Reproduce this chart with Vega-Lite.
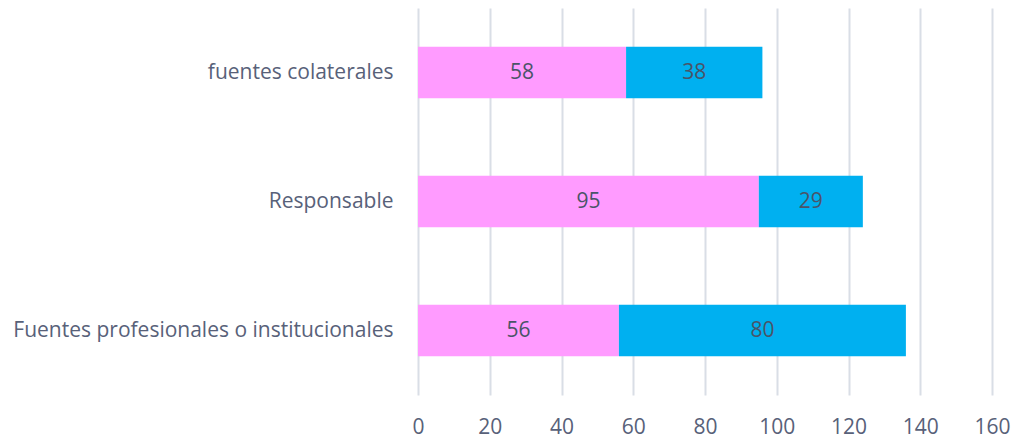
{
  "$schema": "https://vega.github.io/schema/vega-lite/v6.json",
  "width": 574,
  "height": 387,
  "autosize": {"type": "none"},
  "padding": {"left": 418, "top": 8, "right": 26, "bottom": 47},
  "background": "white",
  "config": {"view": {"stroke": null}, "font": "Open Sans"},
  "data": {"values": [
    {"cat": "fuentes colaterales", "serie": "A", "order": 1, "value": 58},
    {"cat": "fuentes colaterales", "serie": "B", "order": 2, "value": 38},
    {"cat": "Responsable", "serie": "A", "order": 1, "value": 95},
    {"cat": "Responsable", "serie": "B", "order": 2, "value": 29},
    {"cat": "Fuentes profesionales o institucionales", "serie": "A", "order": 1, "value": 56},
    {"cat": "Fuentes profesionales o institucionales", "serie": "B", "order": 2, "value": 80}
  ]},
  "encoding": {
    "y": {"field": "cat", "type": "nominal", "sort": ["fuentes colaterales", "Responsable", "Fuentes profesionales o institucionales"],
      "scale": {"paddingInner": 0.6, "paddingOuter": 0.3},
      "axis": {"title": null, "domain": false, "ticks": false, "labelFontSize": 21, "labelColor": "#586179", "labelPadding": 25, "labelLimit": 500}},
    "x": {"field": "value", "type": "quantitative", "stack": "zero",
      "scale": {"domain": [0, 160]},
      "axis": {"title": null, "values": [0,20,40,60,80,100,120,140,160], "domain": false, "ticks": false, "grid": true, "gridColor": "#D9DEE6", "gridWidth": 2, "labelFontSize": 21, "labelColor": "#586179", "labelPadding": 21, "labelFlush": false, "labelOverlap": false}},
    "order": {"field": "order"}
  },
  "layer": [
    {"mark": {"type": "bar"},
     "encoding": {"color": {"field": "serie", "type": "nominal", "legend": null, "scale": {"domain": ["A","B"], "range": ["#FF9BFF", "#00B0F0"]}}}},
    {"mark": {"type": "text", "fontSize": 21, "color": "#4A5468"},
     "encoding": {"x": {"field": "value", "type": "quantitative", "stack": "zero", "bandPosition": 0.5}, "text": {"field": "value"}}}
  ]
}
